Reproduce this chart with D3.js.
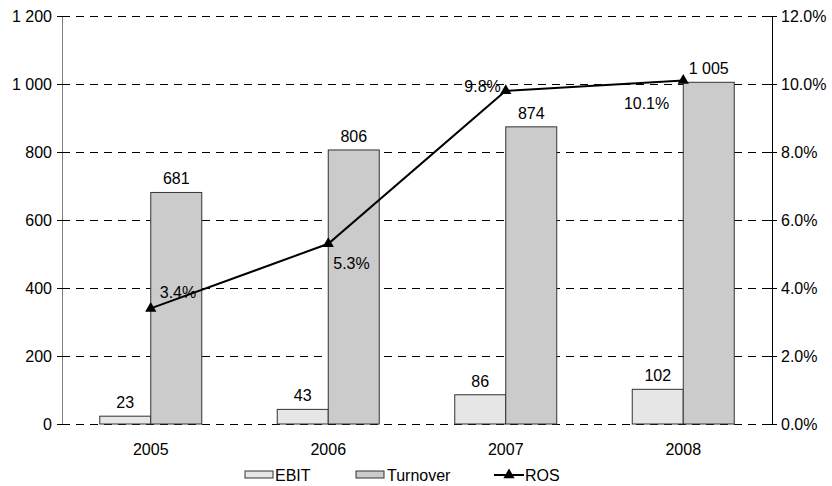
<!DOCTYPE html>
<html>
<head>
<meta charset="utf-8">
<script src="https://cdn.jsdelivr.net/npm/d3@7"></script>
<style>
  body { margin: 0; background: #fff; }
  text { font-family: "Liberation Sans", Arial, sans-serif; font-size: 16px; fill: #000; }
</style>
</head>
<body>
<script>
// chart values
var years = ["2005", "2006", "2007", "2008"];
var ebit = [23, 43, 86, 102];
var turnover = [681, 806, 874, 1005];
var ros = [3.4, 5.3, 9.8, 10.1];
var leftTicks = [0, 200, 400, 600, 800, 1000, 1200];
var rightTicks = [0, 2, 4, 6, 8, 10, 12];

var width = 832, height = 486;
var margin = ({ top: 16, right: 60, bottom: 62, left: 62 });

var svg = d3.select("body").append("svg").attr("width", width).attr("height", height);

var x = d3.scaleBand().domain(years).range([margin.left, width - margin.right]);
var y = d3.scaleLinear().domain([0, 1200]).range([height - margin.bottom, margin.top]);
var yR = d3.scaleLinear().domain([0, 12]).range([height - margin.bottom, margin.top]);

var fmt = v => d3.format(",")(v).replace(/,/g, " ");
var fontCss = "'Liberation Sans', Arial, sans-serif";

// grid lines
svg.append("g").selectAll("line").data(leftTicks).enter().append("line")
    .attr("x1", margin.left).attr("x2", width - margin.right)
    .attr("y1", d => Math.round(y(d)) + 0.5).attr("y2", d => Math.round(y(d)) + 0.5)
    .attr("stroke", "#000").attr("stroke-dasharray", "8,6").attr("stroke-width", 1);

// bars
var bw = 51;
var groups = svg.append("g");
groups.selectAll(".ebit").data(years).enter().append("rect")
    .attr("x", (d) => x(d) + x.bandwidth() / 2 - bw)
    .attr("y", (d, i) => y(ebit[i]))
    .attr("width", bw).attr("height", (d, i) => y(0) - y(ebit[i]))
    .attr("fill", "#e6e6e6").attr("stroke", "#333").attr("stroke-width", 1);
groups.selectAll(".turn").data(years).enter().append("rect")
    .attr("x", (d) => x(d) + x.bandwidth() / 2)
    .attr("y", (d, i) => y(turnover[i]))
    .attr("width", bw).attr("height", (d, i) => y(0) - y(turnover[i]))
    .attr("fill", "#cbcbcb").attr("stroke", "#333").attr("stroke-width", 1);

// bar labels
svg.append("g").selectAll("text").data(years).enter().append("text")
    .attr("x", d => x(d) + x.bandwidth() / 2 - bw / 2)
    .attr("y", (d, i) => y(ebit[i]) - 8)
    .attr("text-anchor", "middle").text((d, i) => fmt(ebit[i]));
svg.append("g").selectAll("text").data(years).enter().append("text")
    .attr("x", d => x(d) + x.bandwidth() / 2 + bw / 2)
    .attr("y", (d, i) => y(turnover[i]) - 8)
    .attr("text-anchor", "middle").text((d, i) => fmt(turnover[i]));

// axes
var yAxis = g => g.attr("transform", "translate(" + margin.left + ",0)")
    .call(d3.axisLeft(y).tickValues(leftTicks).tickFormat(fmt).tickSizeInner(5).tickSizeOuter(0))
    .call(g => g.select(".domain").attr("stroke", "#808080"))
    .call(g => g.selectAll(".tick line").attr("x2", 5).attr("x1", -5).attr("stroke", "#000"))
    .call(g => g.selectAll("text").attr("x", -10).style("font-size", "16px").style("font-family", fontCss));
var yAxisR = g => g.attr("transform", "translate(" + (width - margin.right) + ",0)")
    .call(d3.axisRight(yR).tickValues(rightTicks).tickFormat(d => d.toFixed(1) + "%").tickSizeInner(5).tickSizeOuter(0))
    .call(g => g.select(".domain").attr("stroke", "#000"))
    .call(g => g.selectAll(".tick line").attr("x2", 5).attr("x1", -5).attr("stroke", "#000"))
    .call(g => g.selectAll("text").attr("x", 9).style("font-size", "16px").style("font-family", fontCss));
svg.append("g").call(yAxis);
svg.append("g").call(yAxisR);

// year labels
svg.append("g").selectAll("text").data(years).enter().append("text")
    .attr("x", d => x(d) + x.bandwidth() / 2)
    .attr("y", y(0) + 31)
    .attr("text-anchor", "middle").text(d => d);

// ROS line
var pts = years.map((d, i) => [x(d) + x.bandwidth() / 2, yR(ros[i])]);
svg.append("path").datum(pts)
    .attr("d", d3.line())
    .attr("fill", "none").attr("stroke", "#000").attr("stroke-width", 2);
var tri = d3.symbol().type(d3.symbolTriangle).size(55);
svg.append("g").selectAll("path").data(pts).enter().append("path")
    .attr("d", tri).attr("transform", d => "translate(" + d[0] + "," + d[1] + ")")
    .attr("fill", "#000");

// ROS labels
var rosOff = [[9, -10, "start"], [5, 25, "start"], [-5, 1, "end"], [-14, 28, "end"]];
svg.append("g").selectAll("text").data(pts).enter().append("text")
    .attr("x", (d, i) => d[0] + rosOff[i][0])
    .attr("y", (d, i) => d[1] + rosOff[i][1])
    .attr("text-anchor", (d, i) => rosOff[i][2])
    .text((d, i) => ros[i].toFixed(1) + "%");

// legend
var leg = svg.append("g").attr("transform", "translate(0," + 475 + ")");
leg.append("rect").attr("x", 245).attr("y", -4).attr("width", 28).attr("height", 7)
    .attr("fill", "#e6e6e6").attr("stroke", "#333");
leg.append("text").attr("x", 275).attr("y", 6).text("EBIT");
leg.append("rect").attr("x", 356).attr("y", -4).attr("width", 28).attr("height", 7)
    .attr("fill", "#cbcbcb").attr("stroke", "#333");
leg.append("text").attr("x", 387).attr("y", 6).text("Turnover");
leg.append("line").attr("x1", 494).attr("x2", 524).attr("y1", 0).attr("y2", 0)
    .attr("stroke", "#000").attr("stroke-width", 2);
leg.append("path").attr("d", tri).attr("transform", "translate(509,0)").attr("fill", "#000");
leg.append("text").attr("x", 525).attr("y", 6).text("ROS");
</script>
</body>
</html>
